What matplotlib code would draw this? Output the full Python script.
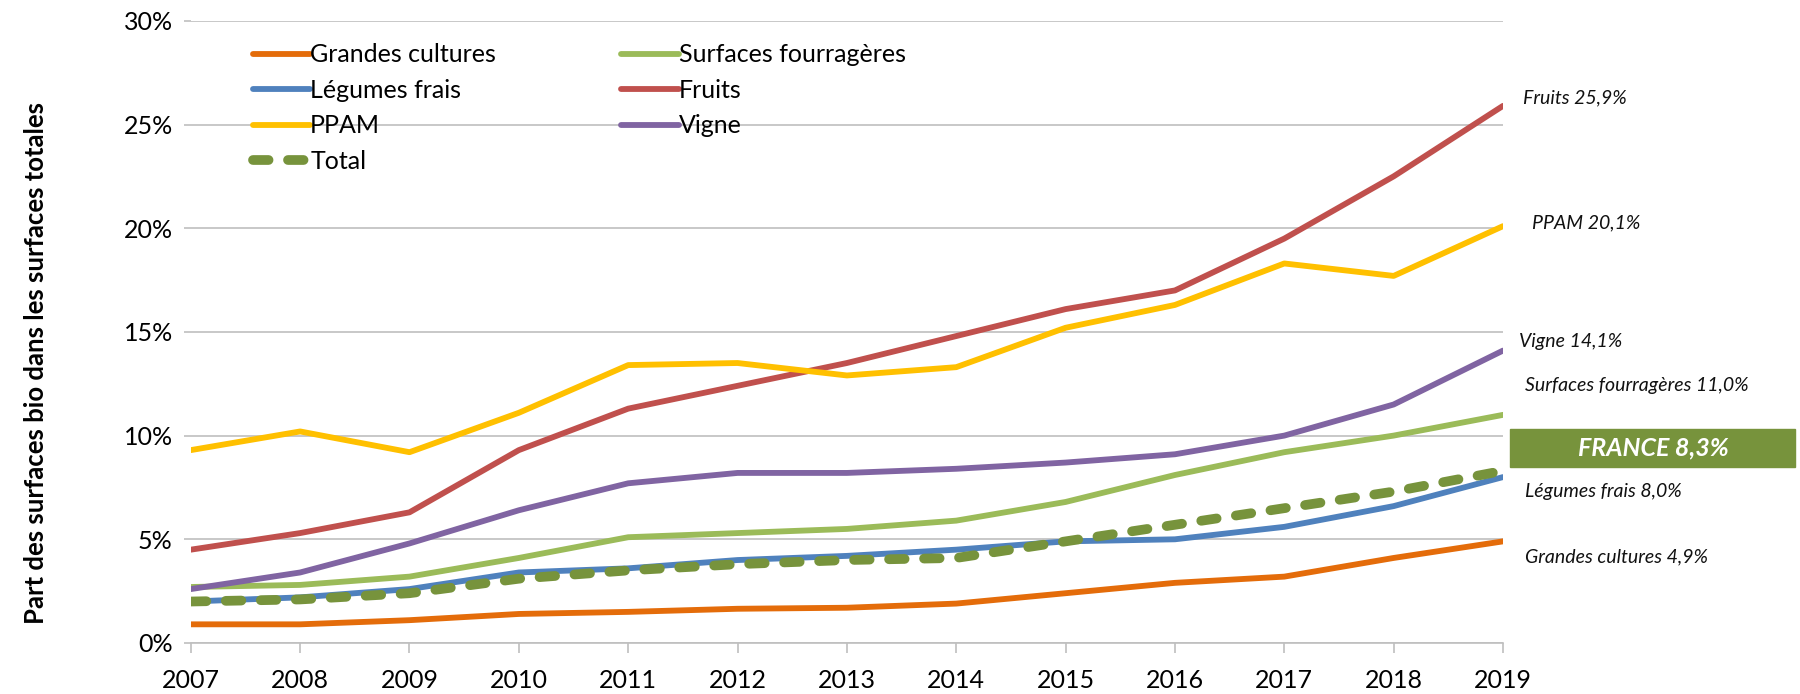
import numpy as np
import matplotlib.pyplot as plt

years = list(range(2007, 2020))

grandes_cultures = [0.9, 0.9, 1.1, 1.4, 1.5, 1.65, 1.7, 1.9, 2.4, 2.9, 3.2, 4.1, 4.9]
surfaces_fourrageres = [2.7, 2.8, 3.2, 4.1, 5.1, 5.3, 5.5, 5.9, 6.8, 8.1, 9.2, 10.0, 11.0]
legumes_frais = [2.0, 2.2, 2.6, 3.4, 3.6, 4.0, 4.2, 4.5, 4.9, 5.0, 5.6, 6.6, 8.0]
fruits = [4.5, 5.3, 6.3, 9.3, 11.3, 12.4, 13.5, 14.8, 16.1, 17.0, 19.5, 22.5, 25.9]
ppam = [9.3, 10.2, 9.2, 11.1, 13.4, 13.5, 12.9, 13.3, 15.2, 16.3, 18.3, 17.7, 20.1]
vigne = [2.6, 3.4, 4.8, 6.4, 7.7, 8.2, 8.2, 8.4, 8.7, 9.1, 10.0, 11.5, 14.1]
total = [2.0, 2.1, 2.4, 3.1, 3.5, 3.8, 4.0, 4.1, 4.9, 5.7, 6.5, 7.3, 8.3]

yticks = [0, 5, 10, 15, 20, 25, 30]

plt.rcParams['font.family'] = ['Lato', 'DejaVu Sans']

fig = plt.figure(figsize=(18, 6.94), dpi=100)
ax = fig.add_axes([0.106, 0.0735, 0.729, 0.8965])

lw = 4.2
l_gc, = ax.plot(years, grandes_cultures, color='#E46C0A', lw=lw, solid_capstyle='round', label='Grandes cultures')
l_sf, = ax.plot(years, surfaces_fourrageres, color='#9BBB59', lw=lw, solid_capstyle='round', label='Surfaces fourragères')
l_lf, = ax.plot(years, legumes_frais, color='#4F81BD', lw=lw, solid_capstyle='round', label='Légumes frais')
l_fr, = ax.plot(years, fruits, color='#C0504D', lw=lw, solid_capstyle='round', label='Fruits')
l_pp, = ax.plot(years, ppam, color='#FFC000', lw=lw, solid_capstyle='round', label='PPAM')
l_vi, = ax.plot(years, vigne, color='#8064A2', lw=lw, solid_capstyle='round', label='Vigne')
l_to, = ax.plot(years, total, color='#77933C', lw=7, dashes=(1.6, 2.0), dash_capstyle='round', label='Total')

ax.set_xlim(2007, 2019)
ax.set_ylim(0, 30)
ax.set_xticks(years)
ax.set_yticks(yticks)
ax.set_yticklabels([f'{v}%' for v in yticks])
ax.grid(axis='y', color='#BFBFBF', lw=1.2)
ax.set_axisbelow(True)
for s in ['top', 'right', 'left']:
    ax.spines[s].set_visible(False)
ax.spines['bottom'].set_color('#BFBFBF')
ax.spines['bottom'].set_linewidth(1.2)
ax.tick_params(axis='x', length=7, width=1.2, color='#BFBFBF', labelsize=18, pad=12)
ax.tick_params(axis='y', length=5, width=1.2, color='#BFBFBF', labelsize=18, pad=8)

ax.set_ylabel('Part des surfaces bio dans les surfaces totales', fontsize=18.5, fontweight='bold')
ax.yaxis.set_label_coords(-0.109, 0.45)

handles = [l_gc, l_lf, l_pp, l_to, l_sf, l_fr, l_vi]
ax.legend(handles=handles, ncol=2, loc='upper left', bbox_to_anchor=(0.03, 1.0), frameon=False,
          fontsize=18, handlelength=2.3, handletextpad=0.0, columnspacing=5.0, labelspacing=0.5)

# annotations on the right
def fmt(v):
    return f'{v:.1f}'.replace('.', ',') + '%'

W, H = 1800, 694
labels = [
    (f'Fruits {fmt(fruits[-1])}', 1523, 98),
    (f'PPAM {fmt(ppam[-1])}', 1532, 223),
    (f'Vigne {fmt(vigne[-1])}', 1519, 341),
    (f'Surfaces fourragères {fmt(surfaces_fourrageres[-1])}', 1525, 385),
    (f'Légumes frais {fmt(legumes_frais[-1])}', 1525, 492),
    (f'Grandes cultures {fmt(grandes_cultures[-1])}', 1525, 557),
]
for txt, px, py in labels:
    fig.text(px / W, 1 - py / H, txt, fontsize=14, fontstyle='italic', ha='left', va='center', color='#111111')

fig.patches.append(plt.Rectangle((1510 / W, 1 - 467 / H), (1795 - 1510) / W, 38 / H,
                                 transform=fig.transFigure, color='#77933C', zorder=1))
fig.text(1653 / W, 1 - 448 / H, f'FRANCE {fmt(total[-1])}', fontsize=18, fontstyle='italic', fontweight='bold',
         color='white', ha='center', va='center', zorder=2)

fig.savefig('out.png', dpi=100)
